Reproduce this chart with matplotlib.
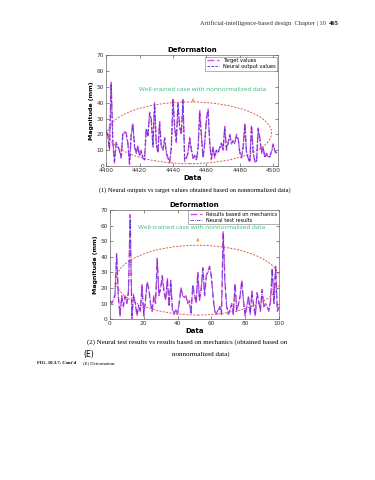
import matplotlib.pyplot as plt
from matplotlib.patches import Ellipse

# ---- data ----
x_top = list(range(4400, 4503))
target_vals = [22, 20, 10, 53, 15, 2, 15, 12, 10, 5,
               20, 22, 21, 15, 1, 20, 27, 12, 8, 13,
               6, 10, 5, 4, 24, 18, 34, 30, 12, 40,
               15, 8, 28, 13, 10, 18, 8, 5, 2, 12,
               43, 25, 15, 40, 25, 20, 42, 3, 5, 8,
               18, 10, 5, 6, 4, 10, 35, 20, 5, 15,
               30, 36, 15, 4, 12, 5, 10, 8, 12, 14,
               10, 25, 10, 15, 20, 14, 16, 15, 20, 18,
               8, 5, 12, 27, 8, 5, 2, 26, 8, 3,
               2, 24, 18, 8, 12, 5, 8, 5, 6, 10,
               14, 9, 8]
neural_vals = [23, 19, 11, 52, 16, 3, 14, 13, 9, 6,
               21, 21, 20, 14, 2, 19, 26, 13, 8, 12,
               7, 9, 6, 4, 23, 19, 33, 29, 13, 39,
               14, 9, 27, 12, 11, 17, 9, 5, 3, 11,
               42, 24, 16, 39, 24, 21, 41, 4, 5, 9,
               17, 11, 5, 7, 4, 11, 34, 19, 6, 14,
               29, 35, 14, 5, 11, 6, 10, 9, 11, 15,
               11, 24, 11, 14, 19, 15, 16, 14, 19, 17,
               9, 6, 12, 26, 9, 5, 3, 25, 9, 3,
               3, 23, 17, 9, 11, 6, 8, 6, 6, 9,
               13, 10, 8]

x_bot = list(range(0, 101))
mech_vals = [12, 10, 12, 15, 42, 15, 2, 15, 8, 15,
             10, 18, 67, 0, 16, 10, 2, 8, 5, 22,
             2, 12, 24, 20, 10, 5, 15, 10, 39, 15,
             20, 28, 18, 12, 26, 8, 25, 5, 3, 6,
             3, 10, 20, 16, 14, 15, 10, 12, 3, 22,
             16, 10, 30, 12, 20, 33, 15, 28, 31, 34,
             28, 15, 5, 3, 5, 8, 3, 56, 25, 8,
             3, 5, 10, 3, 23, 5, 10, 15, 25, 12,
             2, 8, 15, 3, 18, 8, 2, 17, 12, 5,
             19, 8, 10, 8, 5, 12, 33, 10, 34, 5, 8]
test_vals = [11, 11, 12, 16, 41, 14, 3, 14, 9, 14,
             11, 17, 65, 1, 15, 11, 3, 9, 6, 21,
             3, 11, 23, 19, 11, 6, 14, 11, 38, 16,
             19, 27, 17, 13, 25, 9, 24, 6, 4, 6,
             4, 11, 19, 15, 14, 14, 11, 11, 4, 21,
             15, 11, 29, 13, 19, 32, 16, 27, 30, 33,
             27, 14, 6, 4, 6, 8, 4, 55, 24, 9,
             4, 6, 9, 4, 22, 6, 9, 14, 24, 11,
             3, 9, 14, 4, 17, 9, 3, 16, 11, 6,
             18, 9, 9, 8, 6, 11, 32, 11, 33, 6, 7]

magenta = '#d84ce0'
violet = '#5a34d8'
green = '#3cb878'

fig = plt.figure(figsize=(3.75, 4.8), dpi=100)
fig.patch.set_facecolor('white')


def style_axes(ax):
    ax.tick_params(direction='in', length=2, width=0.4, labelsize=4.2,
                   top=True, right=True, pad=1.5, colors='#333333')
    for sp in ax.spines.values():
        sp.set_linewidth(0.5)
        sp.set_color('#666666')
    ax.set_ylim(0, 70)
    ax.set_yticks(range(0, 71, 10))


# ---- top chart ----
ax1 = fig.add_axes([0.283, 0.654, 0.459, 0.231])
ax1.plot(x_top, target_vals, color=magenta, lw=1.0, ls=(0, (5, 2)), label='Target values')
ax1.plot(x_top, neural_vals, color=violet, lw=0.7, ls=(0, (2.5, 1.5)), label='Neural output values')
style_axes(ax1)
ax1.set_xlim(4400, 4503)
ax1.set_xticks(range(4400, 4501, 20))
ax1.set_title('Deformation', fontsize=5, fontweight='bold', pad=2)
ax1.set_xlabel('Data', fontsize=5, fontweight='bold', labelpad=1)
ax1.set_ylabel('Magnitude (mm)', fontsize=4.5, fontweight='bold', labelpad=2)
ax1.legend(loc='upper right', fontsize=3.6, handlelength=2.4, frameon=True,
           fancybox=False, edgecolor='#555555', borderpad=0.3, labelspacing=0.2,
           borderaxespad=0.3).get_frame().set_linewidth(0.4)
ax1.add_patch(Ellipse((4450, 21), 98, 39, fill=False, ec='#e05a4a', ls=(0, (2, 1.5)), lw=0.7))
ax1.annotate('', xy=(4452, 44.5), xytext=(4452, 40.3),
             arrowprops=dict(arrowstyle='-|>', color='#f0a050', lw=0.6, mutation_scale=4))
ax1.text(4458, 48.4, 'Well-trained case with nonnormalized data', color=green,
         fontsize=4.6, ha='center', va='center', family='Open Sans')

# ---- bottom chart ----
ax2 = fig.add_axes([0.293, 0.335, 0.451, 0.2277])
ax2.plot(x_bot, mech_vals, color=magenta, lw=1.0, ls=(0, (5, 2)), label='Results based on mechanics')
ax2.plot(x_bot, test_vals, color=violet, lw=0.6, ls=(0, (4, 1.5, 1, 1.5)), label='Neural test results')
style_axes(ax2)
ax2.set_xlim(0, 100)
ax2.set_xticks(range(0, 101, 20))
ax2.set_title('Deformation', fontsize=5, fontweight='bold', pad=2)
ax2.set_xlabel('Data', fontsize=5, fontweight='bold', labelpad=1)
ax2.set_ylabel('Magnitude (mm)', fontsize=4.5, fontweight='bold', labelpad=2)
ax2.legend(loc='upper right', fontsize=3.6, handlelength=2.4, frameon=True,
           fancybox=False, edgecolor='#555555', borderpad=0.3, labelspacing=0.2,
           borderaxespad=0.1).get_frame().set_linewidth(0.4)
ax2.add_patch(Ellipse((52, 25), 97, 44.7, fill=False, ec='#e05a4a', ls=(0, (2, 1.5)), lw=0.7))
ax2.annotate('', xy=(52, 54), xytext=(52, 47.6),
             arrowprops=dict(arrowstyle='-|>', color='#f0a050', lw=0.6, mutation_scale=4))
ax2.text(54.5, 58.7, 'Well-trained case with nonnormalized data', color=green,
         fontsize=4.6, ha='center', va='center', family='Open Sans')

# ---- page text ----
serif = 'Liberation Serif'
fig.text(326 / 375, 1 - 25 / 480, 'Artificial-intelligence-based design  Chapter | 10',
         fontsize=4.6, family=serif, ha='right', va='baseline', color='#333333')
fig.text(329 / 375, 1 - 25 / 480, '465', fontsize=4.6, family=serif, fontweight='bold',
         ha='left', va='baseline')
fig.text(195 / 375, 1 - 190 / 480,
         '(1) Neural outputs vs target values obtained based on nonnormalized data)',
         fontsize=4.6, family=serif, ha='center', va='center')
fig.text(187 / 375, 1 - 342 / 480,
         '(2) Neural test results vs results based on mechanics (obtained based on',
         fontsize=5.0, family=serif, ha='center', va='center')
fig.text(201 / 375, 1 - 354 / 480, 'nonnormalized data)',
         fontsize=5.0, family=serif, ha='center', va='center')
fig.text(83 / 375, 1 - 354 / 480, '(E)', fontsize=5.5, ha='left', va='center')
fig.text(37 / 375, 1 - 363 / 480, "FIG. 10.3.7, Cont'd", fontsize=3.4, family=serif,
         fontweight='bold', ha='left', va='center')
fig.text(83 / 375, 1 - 363 / 480, '(E) Deformation.', fontsize=3.4, family=serif,
         ha='left', va='center')

fig.savefig('out.png', dpi=100, facecolor='white')
